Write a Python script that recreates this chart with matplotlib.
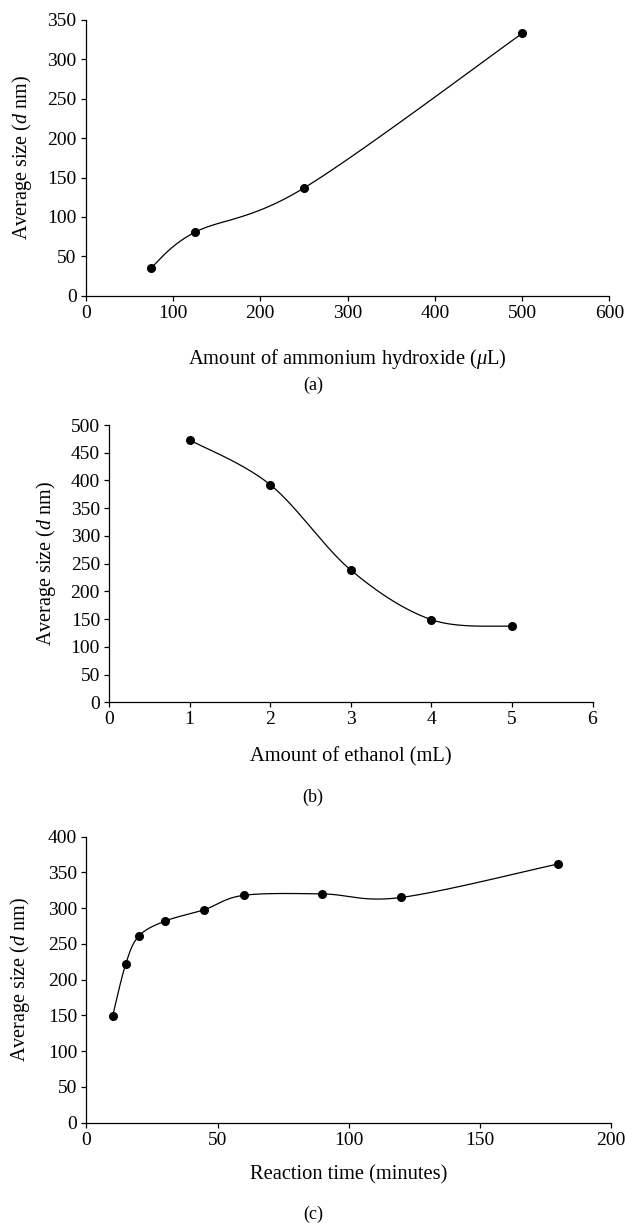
import numpy as np
import matplotlib
matplotlib.use("Agg")
import matplotlib.pyplot as plt

plt.rcParams['font.family'] = ['Liberation Serif', 'DejaVu Serif']
plt.rcParams['mathtext.fontset'] = 'custom'
plt.rcParams['mathtext.rm'] = 'Liberation Serif'
plt.rcParams['mathtext.it'] = 'Liberation Serif:italic'

# ---- data ----
ammonia_ul = [75, 125, 250, 500]
size_a = [35.5, 80.5, 136.7, 333]

ethanol_ml = [1, 2, 3, 4, 5]
size_b = [473, 392.4, 238.5, 149, 137]

time_min = [10, 15, 20, 30, 45, 60, 90, 120, 180]
size_c = [149, 222, 261, 282, 298, 318, 320, 315, 362]

xlabels = ["Amount of ammonium hydroxide ($\\mu$L)",
           "Amount of ethanol (mL)",
           "Reaction time (minutes)"]
ylabel = "Average size ($d$ nm)"
captions = ["(a)", "(b)", "(c)"]

W, H = 626, 1223
fig = plt.figure(figsize=(W / 100, H / 100), dpi=100)


def px_axes(l, r, t, b):
    return fig.add_axes([l / W, 1 - b / H, (r - l) / W, (b - t) / H])


def smooth_line(ax, xs, ys, xlim, ylim, n=40):
    # Excel-like smoothed line (Catmull-Rom through points, in pixel space)
    bbox = ax.get_position()
    sx = bbox.width * W / (xlim[1] - xlim[0])
    sy = bbox.height * H / (ylim[1] - ylim[0])
    P = np.column_stack([(np.asarray(xs) - xlim[0]) * sx,
                         (np.asarray(ys) - ylim[0]) * sy])
    pts = np.vstack([P[0], P, P[-1]])
    out = []
    for i in range(1, len(pts) - 2):
        p0, p1, p2, p3 = pts[i - 1], pts[i], pts[i + 1], pts[i + 2]
        c1 = p1 + (p2 - p0) / 6
        c2 = p2 - (p3 - p1) / 6
        t = np.linspace(0, 1, n)[:, None]
        seg = ((1 - t) ** 3) * p1 + 3 * ((1 - t) ** 2) * t * c1 \
            + 3 * (1 - t) * t ** 2 * c2 + t ** 3 * p2
        out.append(seg)
    out = np.vstack(out)
    ax.plot(out[:, 0] / sx + xlim[0], out[:, 1] / sy + ylim[0],
            color='black', lw=0.9, solid_capstyle='round')
    ax.plot(xs, ys, 'o', color='black', markersize=5.5, zorder=3)


panels = [
    dict(box=(85.7, 609.5, 20, 295.7), x=ammonia_ul, y=size_a,
         xlim=(0, 600), ylim=(0, 350), xt=np.arange(0, 601, 100), yt=np.arange(0, 351, 50),
         ylab_x=22, xlab_y=359, cap_y=385),
    dict(box=(109, 592.5, 425, 702.3), x=ethanol_ml, y=size_b,
         xlim=(0, 6), ylim=(0, 500), xt=np.arange(0, 7, 1), yt=np.arange(0, 501, 50),
         ylab_x=46, xlab_y=757, cap_y=797),
    dict(box=(86.4, 610.8, 836.7, 1122.7), x=time_min, y=size_c,
         xlim=(0, 200), ylim=(0, 400), xt=np.arange(0, 201, 50), yt=np.arange(0, 401, 50),
         ylab_x=20, xlab_y=1175, cap_y=1214),
]

for i, p in enumerate(panels):
    l, r, t, b = p['box']
    ax = px_axes(l, r, t, b)
    ax.set_xlim(*p['xlim'])
    ax.set_ylim(*p['ylim'])
    ax.set_xticks(p['xt'])
    ax.set_yticks(p['yt'])
    for s in ['top', 'right']:
        ax.spines[s].set_visible(False)
    for s in ['left', 'bottom']:
        ax.spines[s].set_linewidth(0.9)
    ax.tick_params(direction='out', length=3.5, width=0.9, labelsize=14, pad=3)
    smooth_line(ax, p['x'], p['y'], p['xlim'], p['ylim'])
    for sp in ax.spines.values():
        sp.set_clip_on(False)
    fig.text(p['ylab_x'] / W, 1 - ((t + b) / 2) / H, ylabel, rotation=90,
             ha='center', va='center', fontsize=14.5)
    fig.text(((l + r) / 2) / W, 1 - p['xlab_y'] / H, xlabels[i],
             ha='center', va='center', fontsize=14.8)
    fig.text(313 / W, 1 - p['cap_y'] / H, captions[i],
             ha='center', va='center', fontsize=13)

fig.savefig("out.png", dpi=100)
